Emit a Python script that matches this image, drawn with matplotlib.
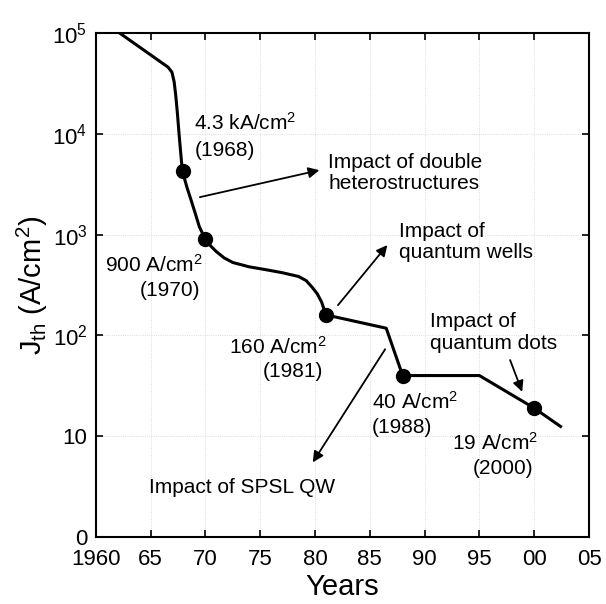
import numpy as np
import matplotlib
matplotlib.use('Agg')
import matplotlib.pyplot as plt

plt.rcParams['font.family'] = ['Liberation Sans', 'DejaVu Sans']
plt.rcParams['mathtext.fontset'] = 'custom'
plt.rcParams['mathtext.rm'] = 'Liberation Sans'
plt.rcParams['mathtext.it'] = 'Liberation Sans:italic'

# curve (year, J_th in A/cm^2)
curve_years = [1962.2, 1966.6, 1966.95, 1967.15, 1967.3, 1967.45, 1967.6, 1967.75, 1967.9,
               1968.3, 1968.7, 1969.1, 1969.45, 1970.0, 1970.5, 1971.0, 1971.7,
               1972.5, 1974.0, 1975.5, 1977.0, 1978.5, 1979.2, 1979.75, 1980.2,
               1980.6, 1981.0, 1986.5, 1988.0, 1995.0, 2000.0, 2002.4]
curve_jth = [1e5, 4.6e4, 4.1e4, 3.3e4, 2.4e4, 1.6e4, 1.0e4, 6500, 4300,
             3000, 2200, 1600, 1200, 900, 770, 680, 590,
             530, 480, 450, 420, 385, 350, 300, 260,
             215, 160, 118, 40, 40, 19, 12.5]

# milestones
dot_years = [1968, 1970, 1981, 1988, 2000]
dot_jth = [4300, 900, 160, 40, 19]
dot_values = ['4.3 kA/cm$^2$', '900 A/cm$^2$', '160 A/cm$^2$', '40 A/cm$^2$', '19 A/cm$^2$']
dot_dates = ['(1968)', '(1970)', '(1981)', '(1988)', '(2000)']

impacts = ['Impact of double\nheterostructures', 'Impact of\nquantum wells',
           'Impact of SPSL QW', 'Impact of\nquantum dots']

xticks = [1960, 1965, 1970, 1975, 1980, 1985, 1990, 1995, 2000, 2005]
xticklabels = ['1960', '65', '70', '75', '80', '85', '90', '95', '00', '05']
yticks = [1, 10, 1e2, 1e3, 1e4, 1e5]
yticklabels = ['0', '10', '10$^2$', '10$^3$', '10$^4$', '10$^5$']

fig = plt.figure(figsize=(6.06, 6.04), dpi=100)
ax = fig.add_axes([0.158, 0.111, 0.814, 0.834])

ax.plot(curve_years, curve_jth, color='k', lw=2.2, solid_joinstyle='round')
ax.plot(dot_years, dot_jth, 'o', color='k', ms=10)

ax.set_yscale('log')
ax.set_xlim(1960, 2005)
ax.set_ylim(1, 1e5)
ax.set_xticks(xticks)
ax.set_xticklabels(xticklabels)
ax.set_yticks(yticks)
ax.set_yticklabels(yticklabels)
ax.minorticks_off()
ax.tick_params(which='major', direction='in', top=True, right=True,
               length=5, width=1.2, labelsize=16)
ax.tick_params(axis='x', pad=9)
ax.tick_params(axis='y', pad=6)
for axis in ['top', 'bottom', 'left', 'right']:
    ax.spines[axis].set_linewidth(1.5)
ax.grid(True, ls=':', lw=0.6, color='#d0d0d0')

ax.set_xlabel('Years', fontsize=21, labelpad=2)
ax.set_ylabel('J$_{\\rm th}$ (A/cm$^2$)', fontsize=21, labelpad=2)

fs = 15
# milestone labels (value line, year line)
val_pos = [(1969.0, 12800), (1960.8, 500), (1972.2, 77), (1985.2, 22), (1992.5, 8.5)]
date_pos = [(1969.0, 6900), (1964.0, 280), (1975.2, 43.6), (1985.2, 12.3), (1994.4, 4.8)]
for (x, y), s in zip(val_pos, dot_values):
    ax.text(x, y, s, fontsize=fs, va='center', ha='left')
for (x, y), s in zip(date_pos, dot_dates):
    ax.text(x, y, s, fontsize=fs, va='center', ha='left')

arrow = dict(arrowstyle='-|>', color='k', lw=1.3, mutation_scale=16, shrinkA=0, shrinkB=0)
text_pos = [(1981.2, 4070), (1987.7, 850), (1964.9, 3.1), (1990.5, 107)]
tails = [(1969.5, 2360), (1982.1, 200), (1986.4, 73), (1997.8, 57)]
tips = [(1980.4, 4370), (1986.6, 789), (1979.8, 5.5), (1998.9, 27.6)]
for s, tp, tl, tip in zip(impacts, text_pos, tails, tips):
    ax.text(tp[0], tp[1], s, fontsize=fs, va='center', ha='left', linespacing=1.15)
    ax.annotate('', xy=tip, xytext=tl, arrowprops=arrow)

plt.savefig('out.png', dpi=100)
